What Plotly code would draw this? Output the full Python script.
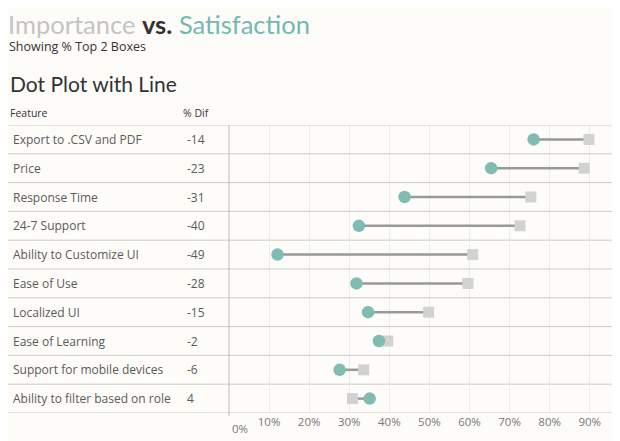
import plotly.graph_objects as go

features = [
    "Export to .CSV and PDF",
    "Price",
    "Response Time",
    "24-7 Support",
    "Ability to Customize UI",
    "Ease of Use",
    "Localized UI",
    "Ease of Learning",
    "Support for mobile devices",
    "Ability to filter based on role",
]
satisfaction = [76.0, 65.4, 43.8, 32.4, 12.1, 31.8, 34.7, 37.4, 27.6, 35.1]
importance = [89.8, 88.6, 75.3, 72.6, 60.8, 59.6, 49.8, 39.6, 33.6, 30.8]
pct_dif = [-14, -23, -31, -40, -49, -28, -15, -2, -6, 4]
tick_values = [0, 10, 20, 30, 40, 50, 60, 70, 80, 90]

TEAL = "#80bcb4"
GREY_SQ = "#d2d2d2"
FONT = "Open Sans"
TITLE_FONT = "Lato"

# the page puts the figure 8px in from the top-left corner, so the
# figure is 8px smaller and all pixel positions below are page pixels - 8
OFF = 8
W, H = 620 - OFF, 441 - OFF
L, R, T, B = 229 - OFF, 7, 125 - OFF, 28
PW = W - L - R
PH = H - T - B


def xp(px):
    # page pixel x -> paper x
    return (px - OFF - L) / PW


def yp(py):
    # page pixel y -> paper y
    return (H - B - (py - OFF)) / PH


rows = list(range(len(features)))

fig = go.Figure()

# connecting lines
lx, ly = [], []
for i in rows:
    lx += [satisfaction[i], importance[i], None]
    ly += [i, i, None]
fig.add_trace(go.Scatter(x=lx, y=ly, mode="lines",
                         line=dict(color="#999999", width=2.5),
                         hoverinfo="skip", showlegend=False))
fig.add_trace(go.Scatter(x=importance, y=rows, mode="markers", name="Importance",
                         marker=dict(symbol="square", size=11, color=GREY_SQ),
                         showlegend=False))
fig.add_trace(go.Scatter(x=satisfaction, y=rows, mode="markers", name="Satisfaction",
                         marker=dict(symbol="circle", size=12.5, color=TEAL),
                         showlegend=False))

shapes = []
for k in range(len(features) + 1):
    shapes.append(dict(type="line", xref="paper", yref="y",
                       x0=xp(5), x1=1, y0=k - 0.5, y1=k - 0.5,
                       line=dict(color="#cccccc", width=1)))
shapes.append(dict(type="line", xref="paper", yref="paper",
                   x0=0, x1=0, y0=yp(416), y1=1,
                   line=dict(color="#bdbdbd", width=1)))

annotations = []
for i in rows:
    annotations.append(dict(x=xp(11), y=i, xref="paper", yref="y",
                            text=features[i], showarrow=False, xanchor="left",
                            font=dict(family=FONT, size=12, color="#5a5a5a")))
    annotations.append(dict(x=xp(185), y=i, xref="paper", yref="y",
                            text=str(pct_dif[i]), showarrow=False, xanchor="left",
                            font=dict(family=FONT, size=12, color="#5a5a5a")))

annotations += [
    dict(x=xp(8), y=yp(113), xref="paper", yref="paper",
         text="Feature", showarrow=False, xanchor="left", yanchor="middle",
         font=dict(family=FONT, size=10.5, color="#333333")),
    dict(x=xp(181), y=yp(113), xref="paper", yref="paper",
         text="% Dif", showarrow=False, xanchor="left", yanchor="middle",
         font=dict(family=FONT, size=10.5, color="#333333")),
    dict(x=xp(7), y=yp(8), xref="paper", yref="paper",
         text=("<span style='color:#c4c4c4'>Importance</span> "
               "<b><span style='color:#333333'>vs.</span></b> "
               "<span style='color:#72b9b1'>Satisfaction</span>"),
         showarrow=False, xanchor="left", yanchor="top", borderpad=0,
         font=dict(family=TITLE_FONT, size=25.5)),
    dict(x=xp(7), y=yp(46), xref="paper", yref="paper",
         text="Showing % Top 2 Boxes", showarrow=False, xanchor="left", yanchor="middle",
         font=dict(family=FONT, size=12.5, color="#333333")),
    dict(x=xp(8), y=yp(83), xref="paper", yref="paper",
         text="Dot Plot with Line", showarrow=False, xanchor="left", yanchor="middle",
         font=dict(family=TITLE_FONT, size=21, color="#333333")),
    dict(x=tick_values[0], y=yp(428), xref="x", yref="paper", xshift=1,
         text=f"{tick_values[0]}%", showarrow=False, xanchor="left", yanchor="middle",
         font=dict(family=FONT, size=11.5, color="#777777")),
]

ticktext = [""] + [f"{v}%" for v in tick_values[1:]]

fig.update_layout(
    width=W, height=H,
    margin=dict(l=L, r=R, t=T, b=B),
    paper_bgcolor="#fdfcf9", plot_bgcolor="#fdfcf9",
    shapes=shapes, annotations=annotations,
    xaxis=dict(range=[0, 95.8], tickvals=tick_values, ticktext=ticktext,
               showgrid=True, gridcolor="#ececec", gridwidth=1,
               zeroline=False, showline=False, ticks="",
               tickfont=dict(family=FONT, size=11.5, color="#777777")),
    yaxis=dict(range=[len(features) - 0.5, -0.5], showticklabels=False,
               showgrid=False, zeroline=False, showline=False),
    hovermode="closest",
)

fig.write_html("out.html")
